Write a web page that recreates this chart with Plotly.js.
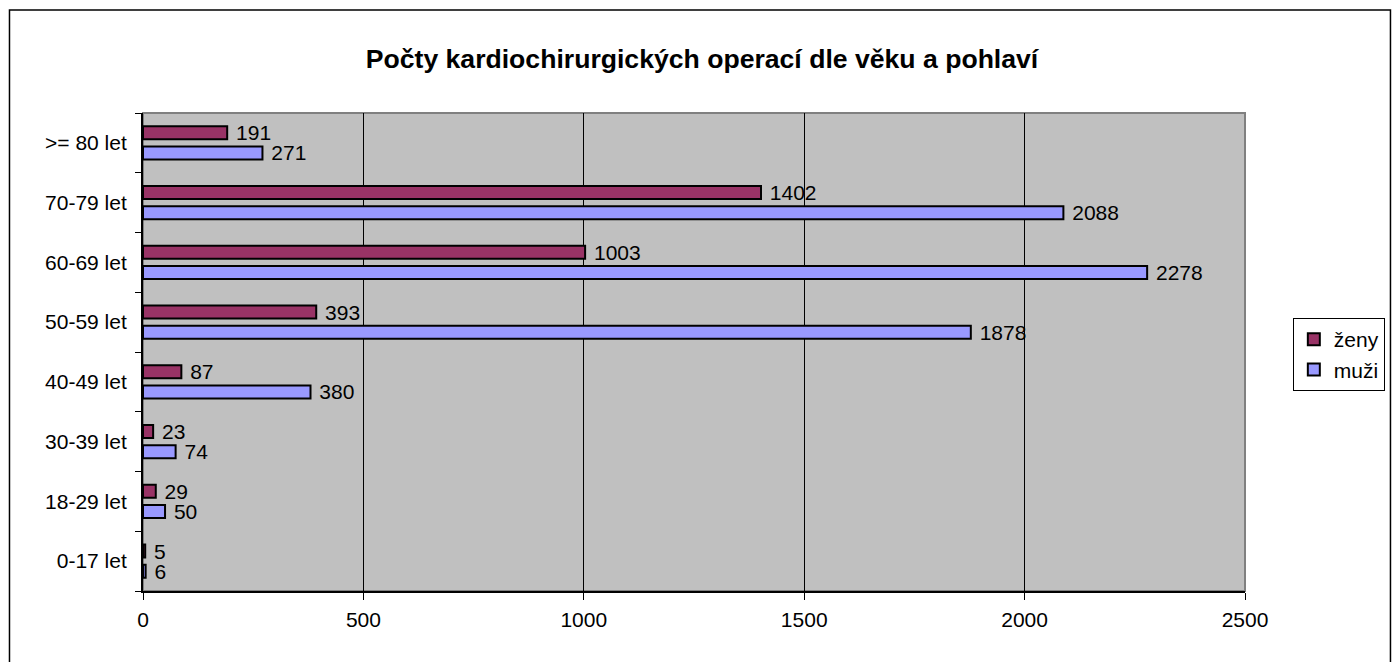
<!DOCTYPE html>
<html>
<head>
<meta charset="utf-8">
<script src="https://cdn.plot.ly/plotly-3.0.1.min.js"></script>
<style>
  html, body { margin: 0; padding: 0; background: #ffffff; }
  #chart { width: 1397px; height: 662px; }
</style>
</head>
<body>
<div id="chart"></div>
<script>
// Data
const categories = ["0-17 let", "18-29 let", "30-39 let", "40-49 let", "50-59 let", "60-69 let", "70-79 let", ">= 80 let"];
const zenyValues = [5, 29, 23, 87, 393, 1003, 1402, 191];
const muziValues = [6, 50, 74, 380, 1878, 2278, 2088, 271];
const seriesNames = ["ženy", "muži"];
const xTickValues = [0, 500, 1000, 1500, 2000, 2500];
const chartTitle = "Počty kardiochirurgických operací dle věku a pohlaví";

const FONT = "Liberation Sans, Arial, Helvetica, sans-serif";

const traceMuzi = {
  type: "bar",
  orientation: "h",
  name: seriesNames[1],
  y: categories,
  x: muziValues,
  text: muziValues.map(String),
  texttemplate: "\u00a0%{x}",
  textposition: "outside",
  constraintext: "none",
  cliponaxis: false,
  textfont: { family: FONT, size: 21, color: "#000000" },
  marker: { color: "#9999ff", line: { color: "#000000", width: 2 } },
  hoverinfo: "x+y+name"
};
const traceZeny = {
  type: "bar",
  orientation: "h",
  name: seriesNames[0],
  y: categories,
  x: zenyValues,
  text: zenyValues.map(String),
  texttemplate: "\u00a0%{x}",
  textposition: "outside",
  constraintext: "none",
  cliponaxis: false,
  textfont: { family: FONT, size: 21, color: "#000000" },
  marker: { color: "#993366", line: { color: "#000000", width: 2 } },
  hoverinfo: "x+y+name"
};

const layout = {
  width: 1397,
  height: 662,
  margin: { l: 143, r: 148, t: 113, b: 71, pad: 0 },
  paper_bgcolor: "#ffffff",
  plot_bgcolor: "#c0c0c0",
  font: { family: FONT, size: 21, color: "#000000" },
  barmode: "group",
  bargap: 0.33,
  bargroupgap: 0.35,
  showlegend: true,
  title: {
    text: "<b>" + chartTitle + "</b>",
    font: { family: FONT, size: 26.6, color: "#000000" },
    xref: "container", x: 0.5025,
    yref: "container", y: 1 - 59 / 662,
    xanchor: "center", yanchor: "middle"
  },
  xaxis: {
    range: [0, 2500],
    tickvals: xTickValues,
    ticktext: xTickValues.map(String),
    showgrid: true,
    gridcolor: "#000000",
    gridwidth: 1,
    zeroline: false,
    showline: true,
    linecolor: "#000000",
    linewidth: 2,
    ticks: "outside",
    ticklen: 7,
    tickwidth: 1,
    tickcolor: "#000000",
    tickfont: { family: FONT, size: 21, color: "#000000" },
    ticklabelstandoff: 2,
    fixedrange: true
  },
  yaxis: {
    type: "category",
    categoryorder: "array",
    categoryarray: categories,
    showgrid: false,
    zeroline: false,
    showline: true,
    linecolor: "#000000",
    linewidth: 2,
    ticks: "outside",
    tickson: "boundaries",
    ticklen: 6,
    tickwidth: 1,
    tickcolor: "#000000",
    tickfont: { family: FONT, size: 21, color: "#000000" },
    ticklabelstandoff: 10,
    fixedrange: true
  },
  legend: {
    traceorder: "reversed",
    x: (1297 - 143) / 1106,
    xanchor: "left",
    y: (591 - 318) / 478,
    yanchor: "top",
    bgcolor: "#ffffff",
    bordercolor: "#000000",
    borderwidth: 1,
    font: { family: FONT, size: 21, color: "#000000" },
    itemwidth: 30,
    tracegroupgap: 0
  },
  shapes: [
    {
      type: "rect", xref: "paper", yref: "paper",
      x0: 0, x1: 1, y0: 0, y1: 1,
      line: { color: "#808080", width: 2 },
      fillcolor: "rgba(0,0,0,0)",
      layer: "below"
    },
    {
      type: "rect", xref: "paper", yref: "paper",
      x0: (9 - 143) / 1106, x1: (1395 - 143) / 1106,
      y0: -0.3, y1: (591 - 10) / 478,
      line: { color: "#000000", width: 1.5 },
      fillcolor: "rgba(0,0,0,0)",
      layer: "above"
    }
  ]
};

Plotly.newPlot("chart", [traceMuzi, traceZeny], layout, { displayModeBar: false, staticPlot: true });
</script>
</body>
</html>
